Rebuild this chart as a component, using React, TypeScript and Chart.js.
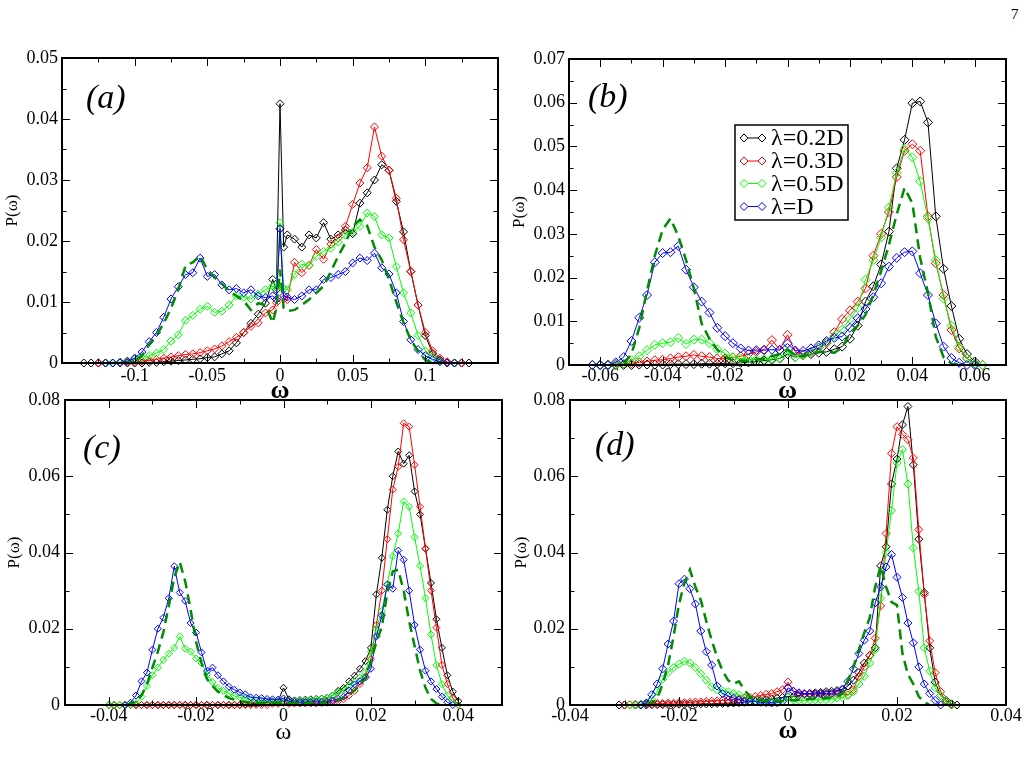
import React, { useEffect, useRef } from "react";
import { Chart, registerables } from "chart.js";

Chart.register(...registerables);

const FONT = '"Liberation Serif", "Times New Roman", Times, serif';

const SERIES_LABELS = ["λ=0.2D", "λ=0.3D", "λ=0.5D", "λ=D", "reference"];
const SERIES_COLORS = ["#000000", "#ff0000", "#00ff00", "#0000ff", "#008b00"];
const X_TITLE = "ω";
const Y_TITLE = "P(ω)";
const PAGE_NUMBER = "7";

// ---------- Panel (a) ----------
const A_X = [-0.135,-0.13,-0.125,-0.12,-0.115,-0.11,-0.105,-0.1,-0.095,-0.09,-0.085,-0.08,-0.075,-0.07,-0.065,-0.06,-0.055,-0.05,-0.045,-0.04,-0.035,-0.03,-0.025,-0.02,-0.015,-0.01,-0.005,-0.0025,0,0.0025,0.005,0.01,0.015,0.02,0.025,0.03,0.035,0.04,0.045,0.05,0.055,0.06,0.065,0.07,0.075,0.08,0.085,0.09,0.095,0.1,0.105,0.11,0.115,0.12,0.125,0.13];
const A_BLACK = [0,0,0,0,0,0,0,0,0,0.0001, 0.0001,0.0002,0.0003,0.0004,0.0005,0.0006,0.0007,0.0009,0.001,0.0015, 0.002,0.0033,0.005,0.0065,0.008,0.0098,0.0137,0.012,0.0425,0.019, 0.021,0.0203,0.019,0.021,0.0205,0.023,0.0203,0.021,0.0218,0.0212, 0.0262,0.0279,0.03,0.0325,0.0316,0.0265,0.0215,0.015,0.0095,0.0045, 0.0016,0.0005,0.0001,0,0,0];
const A_RED = [null,null,0,0,0,0.0001,0.0001,0.0002,0.0003,0.0004, 0.0006,0.0008,0.001,0.0012,0.0014,0.0015,0.0017,0.002,0.0023,0.0028, 0.0035,0.0042,0.005,0.006,0.0066,0.0082,0.0087,0.0099,0.022,0.0105, 0.0104,0.0165,0.0148,0.016,0.0186,0.017,0.0195,0.0205,0.0224,0.026, 0.0295,0.032,0.0387,0.0339,0.0316,0.027,0.0202,0.015,0.0095,0.005, 0.002,0.0008,0.0002,0,0,null];
const A_GREEN = [null,null,null,0,0,0.0001,0.0003,0.0006,0.0009,0.0012, 0.0016,0.0022,0.0036,0.0046,0.007,0.0078,0.0088,0.0093,0.0083,0.0085, 0.0095,0.011,0.0108,0.0105,0.0113,0.012,0.0126,0.0124,0.023,0.0122, 0.012,0.0145,0.0162,0.016,0.0175,0.0183,0.0188,0.0198,0.021,0.0215, 0.0224,0.0246,0.024,0.021,0.0205,0.0158,0.0115,0.0082,0.0045,0.002, 0.001,0.0003,0,0,null,null];
const A_BLUE = [null,null,null,0,0,0.0001,0.0003,0.0008,0.0018,0.0035, 0.005,0.0075,0.0105,0.0125,0.0145,0.0148,0.0172,0.0142,0.0145,0.0128, 0.012,0.0122,0.0115,0.012,0.011,0.0107,0.011,0.0104,0.022,0.011, 0.0108,0.0104,0.011,0.012,0.012,0.0137,0.014,0.0145,0.015,0.0164, 0.0172,0.0168,0.018,0.0156,0.0146,0.0115,0.0068,0.0038,0.0022,0.0012, 0.0006,0.0002,0,0,null,null];
const A_DASH = [null,null,null,0,0,0,0.0001,0.0003,0.0012,0.003, 0.0045,0.0065,0.009,0.012,0.016,0.0165,0.0176,0.0153,0.014,0.013, 0.0118,0.011,0.0102,0.0087,0.0098,0.0095,0.0066,0.009,0.0153,0.009, 0.0085,0.0087,0.0095,0.0104,0.0115,0.0126,0.015,0.0175,0.0197,0.0224, 0.0235,0.0225,0.019,0.0169,0.0137,0.01,0.0066,0.0038,0.0019,0.0005, 0,0,null,null,null,null];

// ---------- Panel (b) ----------
const B_X = [-0.0625,-0.06,-0.0575,-0.055,-0.0525,-0.05,-0.0475,-0.045,-0.0425,-0.04,-0.0375,-0.035,-0.0325,-0.03,-0.0275,-0.025,-0.0225,-0.02,-0.0175,-0.015,-0.0125,-0.01,-0.0075,-0.005,-0.0025,0,0.0025,0.005,0.0075,0.01,0.0125,0.015,0.0175,0.02,0.0225,0.025,0.0275,0.03,0.0325,0.035,0.0375,0.04,0.0425,0.045,0.0475,0.05,0.0525,0.055,0.0575,0.06,0.0625];
const B_BLACK = [0,0,0,0,0,0,0.0001,0.0001,0.0001,0.0001, 0.0002,0.0002,0.0002,0.0002,0.0003,0.0003,0.0003,0.0004,0.0004,0.0005, 0.0006,0.0008,0.001,0.0012,0.0015,0.0025,0.0018,0.0022,0.0025,0.0028, 0.003,0.0036,0.0042,0.006,0.009,0.0145,0.018,0.023,0.0305,0.045, 0.0515,0.0599,0.0603,0.0555,0.034,0.022,0.0135,0.006,0.0025,0.0008, 0];
const B_RED = [0,0,0.0001,0.0002,0.0003,0.0004,0.0006,0.0008,0.0011,0.0012, 0.0015,0.0018,0.002,0.0023,0.002,0.0018,0.0015,0.0015,0.0017,0.002, 0.0025,0.003,0.0035,0.0057,0.0035,0.0069,0.003,0.0025,0.003,0.004, 0.005,0.0075,0.0105,0.0125,0.0145,0.0175,0.025,0.03,0.035,0.043, 0.049,0.0505,0.049,0.034,0.0233,0.016,0.008,0.0038,0.0015,0.0003, 0];
const B_GREEN = [0,0,0,0.0001,0.0003,0.0011,0.002,0.0034,0.0046,0.005, 0.0052,0.0062,0.0048,0.0058,0.0058,0.005,0.0036,0.0026,0.0018,0.0015, 0.0014,0.0013,0.0013,0.0014,0.0016,0.003,0.0018,0.0022,0.003,0.004, 0.0052,0.0066,0.0082,0.0105,0.013,0.0195,0.024,0.0292,0.036,0.044, 0.0495,0.0475,0.042,0.0335,0.024,0.0152,0.009,0.0042,0.0016,0.0003, 0];
const B_BLUE = [0,0,0,0.0006,0.0018,0.0055,0.0108,0.016,0.0235,0.0256, 0.0258,0.0272,0.0218,0.0178,0.0145,0.012,0.0085,0.0066,0.005,0.0038, 0.0033,0.0034,0.0034,0.0035,0.0034,0.0049,0.0033,0.0032,0.0038,0.0045, 0.0055,0.0062,0.0065,0.0085,0.0107,0.0128,0.0155,0.0187,0.0225,0.0245, 0.0258,0.026,0.021,0.016,0.0095,0.0042,0.0016,0.0005,0,0, null];
const B_DASH = [null,null,0,0,0.0002,0.0025,0.0085,0.017,0.025,0.031, 0.0335,0.0295,0.024,0.0175,0.0095,0.006,0.0035,0.0018,0.0011,0.001, 0.001,0.0012,0.0015,0.002,0.0025,0.0035,0.0022,0.002,0.0025,0.003, 0.003,0.0028,0.004,0.0073,0.009,0.0115,0.016,0.0215,0.0275,0.0345, 0.0405,0.037,0.0245,0.0165,0.0065,0.0018,0.0003,0,null,null, null];

// ---------- Panel (c) ----------
const C_X = [-0.04,-0.03875,-0.0375,-0.03625,-0.035,-0.03375,-0.0325,-0.03125,-0.03,-0.02875,-0.0275,-0.02625,-0.025,-0.02375,-0.0225,-0.02125,-0.02,-0.01875,-0.0175,-0.01625,-0.015,-0.01375,-0.0125,-0.01125,-0.01,-0.00875,-0.0075,-0.00625,-0.005,-0.00375,-0.0025,-0.00125,0,0.00125,0.0025,0.00375,0.005,0.00625,0.0075,0.00875,0.01,0.01125,0.0125,0.01375,0.015,0.01625,0.0175,0.01875,0.02,0.02125,0.0225,0.02375,0.025,0.02625,0.0275,0.02875,0.03,0.03125,0.0325,0.03375,0.035,0.03625,0.0375,0.03875,0.04];
const C_BLACK = [0,0,0,0,0,0,0,0,0,0,0,0,0,0,0,0,0,0,0,0,0,0,0,0,0, 0.0002,0.0003,0.0004,0.0005,0.0006,0.0008,0.001,0.0045,0.0015,0.0012,0.0013,0.0014,0.0015,0.0016,0.0017,0.0019,0.0025,0.0037,0.0045,0.0062,0.0077,0.0095,0.0115,0.015,0.029,0.0386,0.0512,0.06,0.0665,0.0633,0.0655,0.056,0.05,0.041,0.032,0.0225,0.015,0.0078,0.0035,0.001];
const C_RED = [0,0,0,0,0,0,0,0,0,0,0,0,0,0,0,0,0,0,0,0,0,0,0,0,0,0,0,0,0,0, 0.0003,0.0003,0.0005,0.0003,0.0004,0.0004,0.0004,0.0004,0.0004,0.0005, 0.0006,0.0008,0.001,0.0015,0.0025,0.0037,0.0055,0.0075,0.012,0.021, 0.03,0.0435,0.0565,0.0625,0.0739,0.073,0.063,0.052,0.041,0.03, 0.0203,0.0105,0.0055,0.0018,0];
const C_GREEN = [0,0,0,0,0.0001,0.0005,0.0022,0.005,0.0078,0.0098, 0.0118,0.0135,0.015,0.018,0.0148,0.014,0.0122,0.011,0.008,0.006, 0.0045,0.0037,0.003,0.0024,0.002,0.0017,0.0015,0.0013,0.0012,0.0011, 0.001,0.001,0.0012,0.001,0.001,0.0011,0.0012,0.0013,0.0015,0.0017, 0.0019,0.0025,0.0033,0.004,0.005,0.006,0.0072,0.0085,0.014,0.02, 0.0247,0.0317,0.039,0.045,0.0534,0.052,0.044,0.0365,0.028,0.0185, 0.0105,0.0055,0.0025,0.0008,0];
const C_BLUE = [null,null,null,0,0.0006,0.0025,0.0062,0.0085,0.0145,0.02, 0.0229,0.028,0.0364,0.0295,0.0273,0.0215,0.019,0.0138,0.0089,0.0098, 0.0078,0.0062,0.0048,0.004,0.0033,0.0028,0.002,0.0019,0.0018,0.0016, 0.0015,0.0014,0.0017,0.001,0.0008,0.0008,0.0008,0.0008,0.0008,0.0008, 0.0009,0.0012,0.0016,0.0022,0.0038,0.0054,0.0062,0.0072,0.0095,0.018, 0.0235,0.0316,0.0305,0.0405,0.0381,0.03,0.021,0.0145,0.009,0.0062, 0.0042,0.0022,0.0007,0,null];
const C_DASH = [null,null,null,0,0.0003,0.001,0.0025,0.0055,0.0098,0.014, 0.019,0.026,0.0335,0.0375,0.0325,0.025,0.0165,0.011,0.0068,0.005, 0.0035,0.0026,0.0018,0.0014,0.001,0.0008,0.0006,0.0005,0.0005,0.0005, 0.0005,0.0005,0.0006,0.0005,0.0005,0.0005,0.0005,0.0005,0.0005,0.0005, 0.0007,0.001,0.0014,0.002,0.0028,0.0038,0.0052,0.007,0.0115,0.0165, 0.0205,0.0295,0.035,0.0355,0.03,0.022,0.0155,0.009,0.0045,0.0016, 0.0004,0,null,null,null];

// ---------- Panel (d) ----------
const D_X = [-0.031,-0.03,-0.029,-0.028,-0.027,-0.026,-0.025,-0.024,-0.023,-0.022,-0.021,-0.02,-0.019,-0.018,-0.017,-0.016,-0.015,-0.014,-0.013,-0.012,-0.011,-0.01,-0.009,-0.008,-0.007,-0.006,-0.005,-0.004,-0.003,-0.002,-0.001,0,0.001,0.002,0.003,0.004,0.005,0.006,0.007,0.008,0.009,0.01,0.011,0.012,0.013,0.014,0.015,0.016,0.017,0.018,0.019,0.02,0.021,0.022,0.023,0.024,0.025,0.026,0.027,0.028,0.029,0.03,0.031];
const D_BLACK = [0,0,0,0,0,0,0.0001,0.0001,0.0001,0.0001, 0.0001,0.0002,0.0002,0.0002,0.0002,0.0003,0.0003,0.0003,0.0004,0.0004, 0.0005,0.0005,0.0006,0.0007,0.0008,0.001,0.0012,0.0014,0.0016,0.0018, 0.002,0.0022,0.0022,0.0025,0.0028,0.003,0.0032,0.0033,0.0035,0.0036, 0.0038,0.004,0.005,0.0065,0.0085,0.011,0.013,0.015,0.0365,0.0415, 0.058,0.0645,0.0735,0.0783,0.063,0.0435,0.0295,0.015,0.006,0.0025, 0.0012,0.0003,0];
const D_RED = [null,0,0.0001,0.0002,0.0002,0.0003,0.0003,0.0004,0.0004,0.0005, 0.0005,0.0006,0.0006,0.0007,0.0008,0.0008,0.0009,0.001,0.0011,0.0012, 0.0013,0.0014,0.0016,0.0018,0.002,0.0022,0.0025,0.0028,0.003,0.0035, 0.004,0.006,0.0036,0.003,0.0028,0.0027,0.0027,0.0028,0.0028,0.0029, 0.003,0.0028,0.0027,0.004,0.0075,0.01,0.013,0.0175,0.026,0.045, 0.066,0.073,0.071,0.0696,0.0648,0.046,0.029,0.0168,0.0085,0.0035, 0.0008,0,null];
const D_GREEN = [null,null,0,0,0.0002,0.0006,0.0015,0.0036,0.0068,0.0085, 0.0098,0.0107,0.0115,0.011,0.0098,0.0082,0.0065,0.0048,0.004,0.0037, 0.0035,0.003,0.0027,0.002,0.0015,0.0012,0.001,0.0009,0.0008,0.0009, 0.001,0.002,0.0013,0.0012,0.0012,0.0013,0.0013,0.0014,0.0014,0.0015, 0.0018,0.002,0.0025,0.0035,0.0055,0.0075,0.011,0.0145,0.028,0.04, 0.051,0.0635,0.067,0.058,0.0412,0.0298,0.015,0.0089,0.0045,0.0025, 0.001,0,null];
const D_BLUE = [null,null,null,null,0,0.0005,0.0027,0.0055,0.0095,0.016, 0.022,0.0318,0.033,0.0305,0.0265,0.0194,0.014,0.0105,0.005,0.003, 0.0024,0.0018,0.0013,0.0011,0.001,0.0009,0.0007,0.0006,0.0005,0.0006, 0.001,0.0045,0.0036,0.0032,0.003,0.003,0.0029,0.003,0.003,0.0031, 0.0035,0.0042,0.0062,0.0095,0.0135,0.017,0.0194,0.0268,0.031,0.0362, 0.0395,0.0335,0.0282,0.0215,0.0163,0.01,0.0055,0.003,0.0012,0, null,null,null];
const D_DASH = [null,null,null,null,null,0,0.0005,0.0018,0.0055,0.0105, 0.018,0.0265,0.032,0.0355,0.031,0.0275,0.022,0.017,0.0125,0.009, 0.0065,0.0055,0.0062,0.004,0.0022,0.0015,0.0012,0.001,0.001,0.001, 0.001,0.0015,0.0012,0.0013,0.0015,0.0016,0.0017,0.0018,0.0018,0.002, 0.0022,0.003,0.0065,0.01,0.0145,0.019,0.0229,0.031,0.0365,0.031, 0.027,0.0262,0.0135,0.008,0.0055,0.0022,0.0008,0,null,null, null,null,null];

// ---------- layout / style of each panel ----------
const PANELS = [
  {
    key: "a", letter: "(a)", xs: A_X, series: [A_BLACK, A_RED, A_GREEN, A_BLUE, A_DASH],
    xMin: -0.15, xMax: 0.15, xMajor: 0.05, xMinor: 0.025, xLabelMax: 0.1,
    yMax: 0.05, yMajor: 0.01, yMinor: 0.005,
    box: { left: 0, top: 40, width: 514, height: 372 },
    padTop: 18, padRight: 16, yAxisW: 62, xAxisH: 49,
    xTickPad: 2, yTickPad: 4, xTitleSize: 26, xTitleWeight: "bold", xTitlePad: 5, yTitlePad: 2,
    radius: 4, letterDx: 24, letterDy: 50, legend: null,
  },
  {
    key: "b", letter: "(b)", xs: B_X, series: [B_BLACK, B_RED, B_GREEN, B_BLUE, B_DASH],
    xMin: -0.07, xMax: 0.07, xMajor: 0.02, xMinor: 0.01, xLabelMax: 0.06,
    yMax: 0.07, yMajor: 0.01, yMinor: 0.005,
    box: { left: 505, top: 40, width: 523, height: 372 },
    padTop: 19, padRight: 22, yAxisW: 64, xAxisH: 47,
    xTickPad: 0, yTickPad: 4, xTitleSize: 26, xTitleWeight: "bold", xTitlePad: 5, yTitlePad: 4,
    radius: 4.5, letterDx: 19, letterDy: 48,
    legend: { dx: 166, dy: 66, w: 113, h: 95, rows: [79, 102, 124.5, 147.5], m1: 175, m2: 193, tx: 202, fontSize: 24 },
  },
  {
    key: "c", letter: "(c)", xs: C_X, series: [C_BLACK, C_RED, C_GREEN, C_BLUE, C_DASH],
    xMin: -0.05, xMax: 0.05, xMajor: 0.02, xMinor: 0.01, xLabelMax: 0.04,
    yMax: 0.08, yMajor: 0.02, yMinor: 0.01,
    box: { left: 0, top: 380, width: 514, height: 388 },
    padTop: 20, padRight: 12, yAxisW: 65, xAxisH: 63,
    xTickPad: 0, yTickPad: 5, xTitleSize: 24, xTitleWeight: "normal", xTitlePad: 21, yTitlePad: 4,
    radius: 3.5, letterDx: 18, letterDy: 58, legend: null,
  },
  {
    key: "d", letter: "(d)", xs: D_X, series: [D_BLACK, D_RED, D_GREEN, D_BLUE, D_DASH],
    xMin: -0.04, xMax: 0.04, xMajor: 0.02, xMinor: 0.01, xLabelMax: 0.04,
    yMax: 0.08, yMajor: 0.02, yMinor: 0.01,
    box: { left: 505, top: 380, width: 523, height: 388 },
    padTop: 20, padRight: 22, yAxisW: 65, xAxisH: 63,
    xTickPad: 0, yTickPad: 5, xTitleSize: 26, xTitleWeight: "bold", xTitlePad: 21, yTitlePad: 6,
    radius: 4, letterDx: 25, letterDy: 55, legend: null,
  },
];

const fmt = (v: number) => String(parseFloat(Number(v).toFixed(6)));

const majorTicks = (min: number, max: number, step: number) => {
  const out: { value: number }[] = [];
  const a = Math.ceil(min / step - 1e-9);
  const b = Math.floor(max / step + 1e-9);
  for (let k = a; k <= b; k++) out.push({ value: parseFloat((k * step).toFixed(8)) });
  return out;
};

const framePlugin = {
  id: "frameTicks",
  afterDatasetsDraw(chart: any, _args: any, o: any) {
    const { ctx, chartArea: ca } = chart;
    const xs = chart.scales.x;
    const ys = chart.scales.y;
    ctx.save();
    ctx.strokeStyle = "#000";
    ctx.lineWidth = 1;
    ctx.setLineDash([]);
    ctx.beginPath();
    const nx = Math.round((o.xMax - o.xMin) / o.xMinor);
    for (let i = 0; i <= nx; i++) {
      const v = o.xMin + i * o.xMinor;
      const r = v / o.xMajor;
      const len = Math.abs(r - Math.round(r)) < 1e-6 ? 8 : 4.5;
      const p = Math.round(xs.getPixelForValue(v)) + 0.5;
      ctx.moveTo(p, ca.bottom);
      ctx.lineTo(p, ca.bottom - len);
      ctx.moveTo(p, ca.top);
      ctx.lineTo(p, ca.top + len);
    }
    const ny = Math.round(o.yMax / o.yMinor);
    for (let i = 0; i <= ny; i++) {
      const v = i * o.yMinor;
      const r = v / o.yMajor;
      const len = Math.abs(r - Math.round(r)) < 1e-6 ? 8 : 4.5;
      const p = Math.round(ys.getPixelForValue(v)) + 0.5;
      ctx.moveTo(ca.left, p);
      ctx.lineTo(ca.left + len, p);
      ctx.moveTo(ca.right, p);
      ctx.lineTo(ca.right - len, p);
    }
    ctx.stroke();
    ctx.lineWidth = 2;
    ctx.strokeRect(ca.left, ca.top, ca.right - ca.left, ca.bottom - ca.top);

    ctx.fillStyle = "#000";
    ctx.font = `italic 34px ${FONT}`;
    ctx.textAlign = "left";
    ctx.textBaseline = "alphabetic";
    ctx.fillText(o.letter, ca.left + o.letterDx, ca.top + o.letterDy);

    const L = o.legend;
    if (L) {
      const bx = ca.left + L.dx;
      const by = ca.top + L.dy;
      ctx.fillStyle = "#fff";
      ctx.fillRect(bx, by, L.w, L.h);
      ctx.strokeStyle = "#000";
      ctx.lineWidth = 1.5;
      ctx.strokeRect(bx, by, L.w, L.h);
      ctx.font = `${L.fontSize}px ${FONT}`;
      ctx.textBaseline = "middle";
      L.rows.forEach((ry: number, k: number) => {
        const y = ca.top + ry;
        const c = chart.data.datasets[k].borderColor;
        ctx.strokeStyle = c;
        ctx.lineWidth = 1;
        ctx.beginPath();
        ctx.moveTo(ca.left + L.m1 + 4, y);
        ctx.lineTo(ca.left + L.m2 - 4, y);
        for (const mx of [L.m1, L.m2]) {
          const x = ca.left + mx;
          ctx.moveTo(x - 4, y);
          ctx.lineTo(x, y - 4);
          ctx.lineTo(x + 4, y);
          ctx.lineTo(x, y + 4);
          ctx.closePath();
        }
        ctx.stroke();
        ctx.fillStyle = "#000";
        ctx.fillText(chart.data.datasets[k].label, ca.left + L.tx, y + 1);
      });
    }
    ctx.restore();
  },
};

function buildConfig(p: any): any {
  const datasets = p.series.map((ys: (number | null)[], k: number) => {
    const dashed = k === 4;
    return {
      label: SERIES_LABELS[k],
      data: p.xs.map((x: number, i: number) => ({ x, y: ys[i] === undefined ? null : ys[i] })),
      borderColor: SERIES_COLORS[k],
      backgroundColor: "transparent",
      borderWidth: dashed ? 2.5 : 1,
      borderDash: dashed ? [10, 6] : [],
      pointStyle: "rectRot",
      pointRadius: dashed ? 0 : p.radius,
      pointHoverRadius: 0,
      pointBorderWidth: 1,
      pointBorderColor: SERIES_COLORS[k],
      pointBackgroundColor: "transparent",
      tension: 0,
      clip: false,
      spanGaps: false,
      order: 5 - k,
    };
  });
  const tickFont = { family: FONT, size: 18 };
  return {
    type: "line",
    data: { datasets },
    plugins: [framePlugin],
    options: {
      animation: false,
      responsive: false,
      devicePixelRatio: 1,
      events: [],
      layout: { padding: { top: p.padTop, right: p.padRight, left: 0, bottom: 0 } },
      plugins: {
        legend: { display: false },
        tooltip: { enabled: false },
        frameTicks: {
          xMin: p.xMin, xMax: p.xMax, xMajor: p.xMajor, xMinor: p.xMinor,
          yMax: p.yMax, yMajor: p.yMajor, yMinor: p.yMinor,
          letter: p.letter, letterDx: p.letterDx, letterDy: p.letterDy, legend: p.legend,
        },
      },
      scales: {
        x: {
          type: "linear",
          min: p.xMin,
          max: p.xMax,
          grid: { display: false, drawTicks: false },
          border: { display: false },
          afterBuildTicks: (s: any) => {
            s.ticks = majorTicks(p.xMin, p.xMax, p.xMajor);
          },
          ticks: {
            autoSkip: false,
            maxRotation: 0,
            padding: p.xTickPad,
            color: "#000",
            font: tickFont,
            callback: (v: number) => (Math.abs(v) > p.xLabelMax + 1e-9 ? "" : fmt(v)),
          },
          title: {
            display: true,
            text: X_TITLE,
            color: "#000",
            font: { family: FONT, size: p.xTitleSize, weight: p.xTitleWeight },
            padding: { top: 0, bottom: p.xTitlePad },
          },
          afterFit: (s: any) => {
            s.height = p.xAxisH;
            s.paddingLeft = 0;
            s.paddingRight = 0;
          },
        },
        y: {
          type: "linear",
          min: 0,
          max: p.yMax,
          grid: { display: false, drawTicks: false },
          border: { display: false },
          afterBuildTicks: (s: any) => {
            s.ticks = majorTicks(0, p.yMax, p.yMajor);
          },
          ticks: {
            autoSkip: false,
            padding: p.yTickPad,
            color: "#000",
            font: tickFont,
            callback: (v: number) => fmt(v),
          },
          title: {
            display: true,
            text: Y_TITLE,
            color: "#000",
            font: { family: FONT, size: 17 },
            padding: { top: p.yTitlePad, bottom: 0 },
          },
          afterFit: (s: any) => {
            s.width = p.yAxisW;
            s.paddingTop = 0;
            s.paddingBottom = 0;
          },
        },
      },
    },
  };
}

function Panel({ p }: { p: any }) {
  const ref = useRef<HTMLCanvasElement | null>(null);
  useEffect(() => {
    if (!ref.current) return;
    const chart = new Chart(ref.current, buildConfig(p));
    return () => chart.destroy();
  }, [p]);
  return (
    <canvas
      ref={ref}
      width={p.box.width}
      height={p.box.height}
      style={{
        position: "absolute",
        left: p.box.left,
        top: p.box.top,
        width: p.box.width,
        height: p.box.height,
      }}
    />
  );
}

export default function App() {
  return (
    <div
      style={{
        position: "absolute",
        left: 0,
        top: 0,
        width: 1028,
        height: 768,
        background: "#fff",
        overflow: "hidden",
      }}
    >
      {PANELS.map((p) => (
        <Panel key={p.key} p={p} />
      ))}
      <div
        style={{
          position: "absolute",
          left: 1011,
          top: 5,
          fontFamily: FONT,
          fontSize: 15,
          color: "#000",
          lineHeight: "18px",
        }}
      >
        {PAGE_NUMBER}
      </div>
    </div>
  );
}
